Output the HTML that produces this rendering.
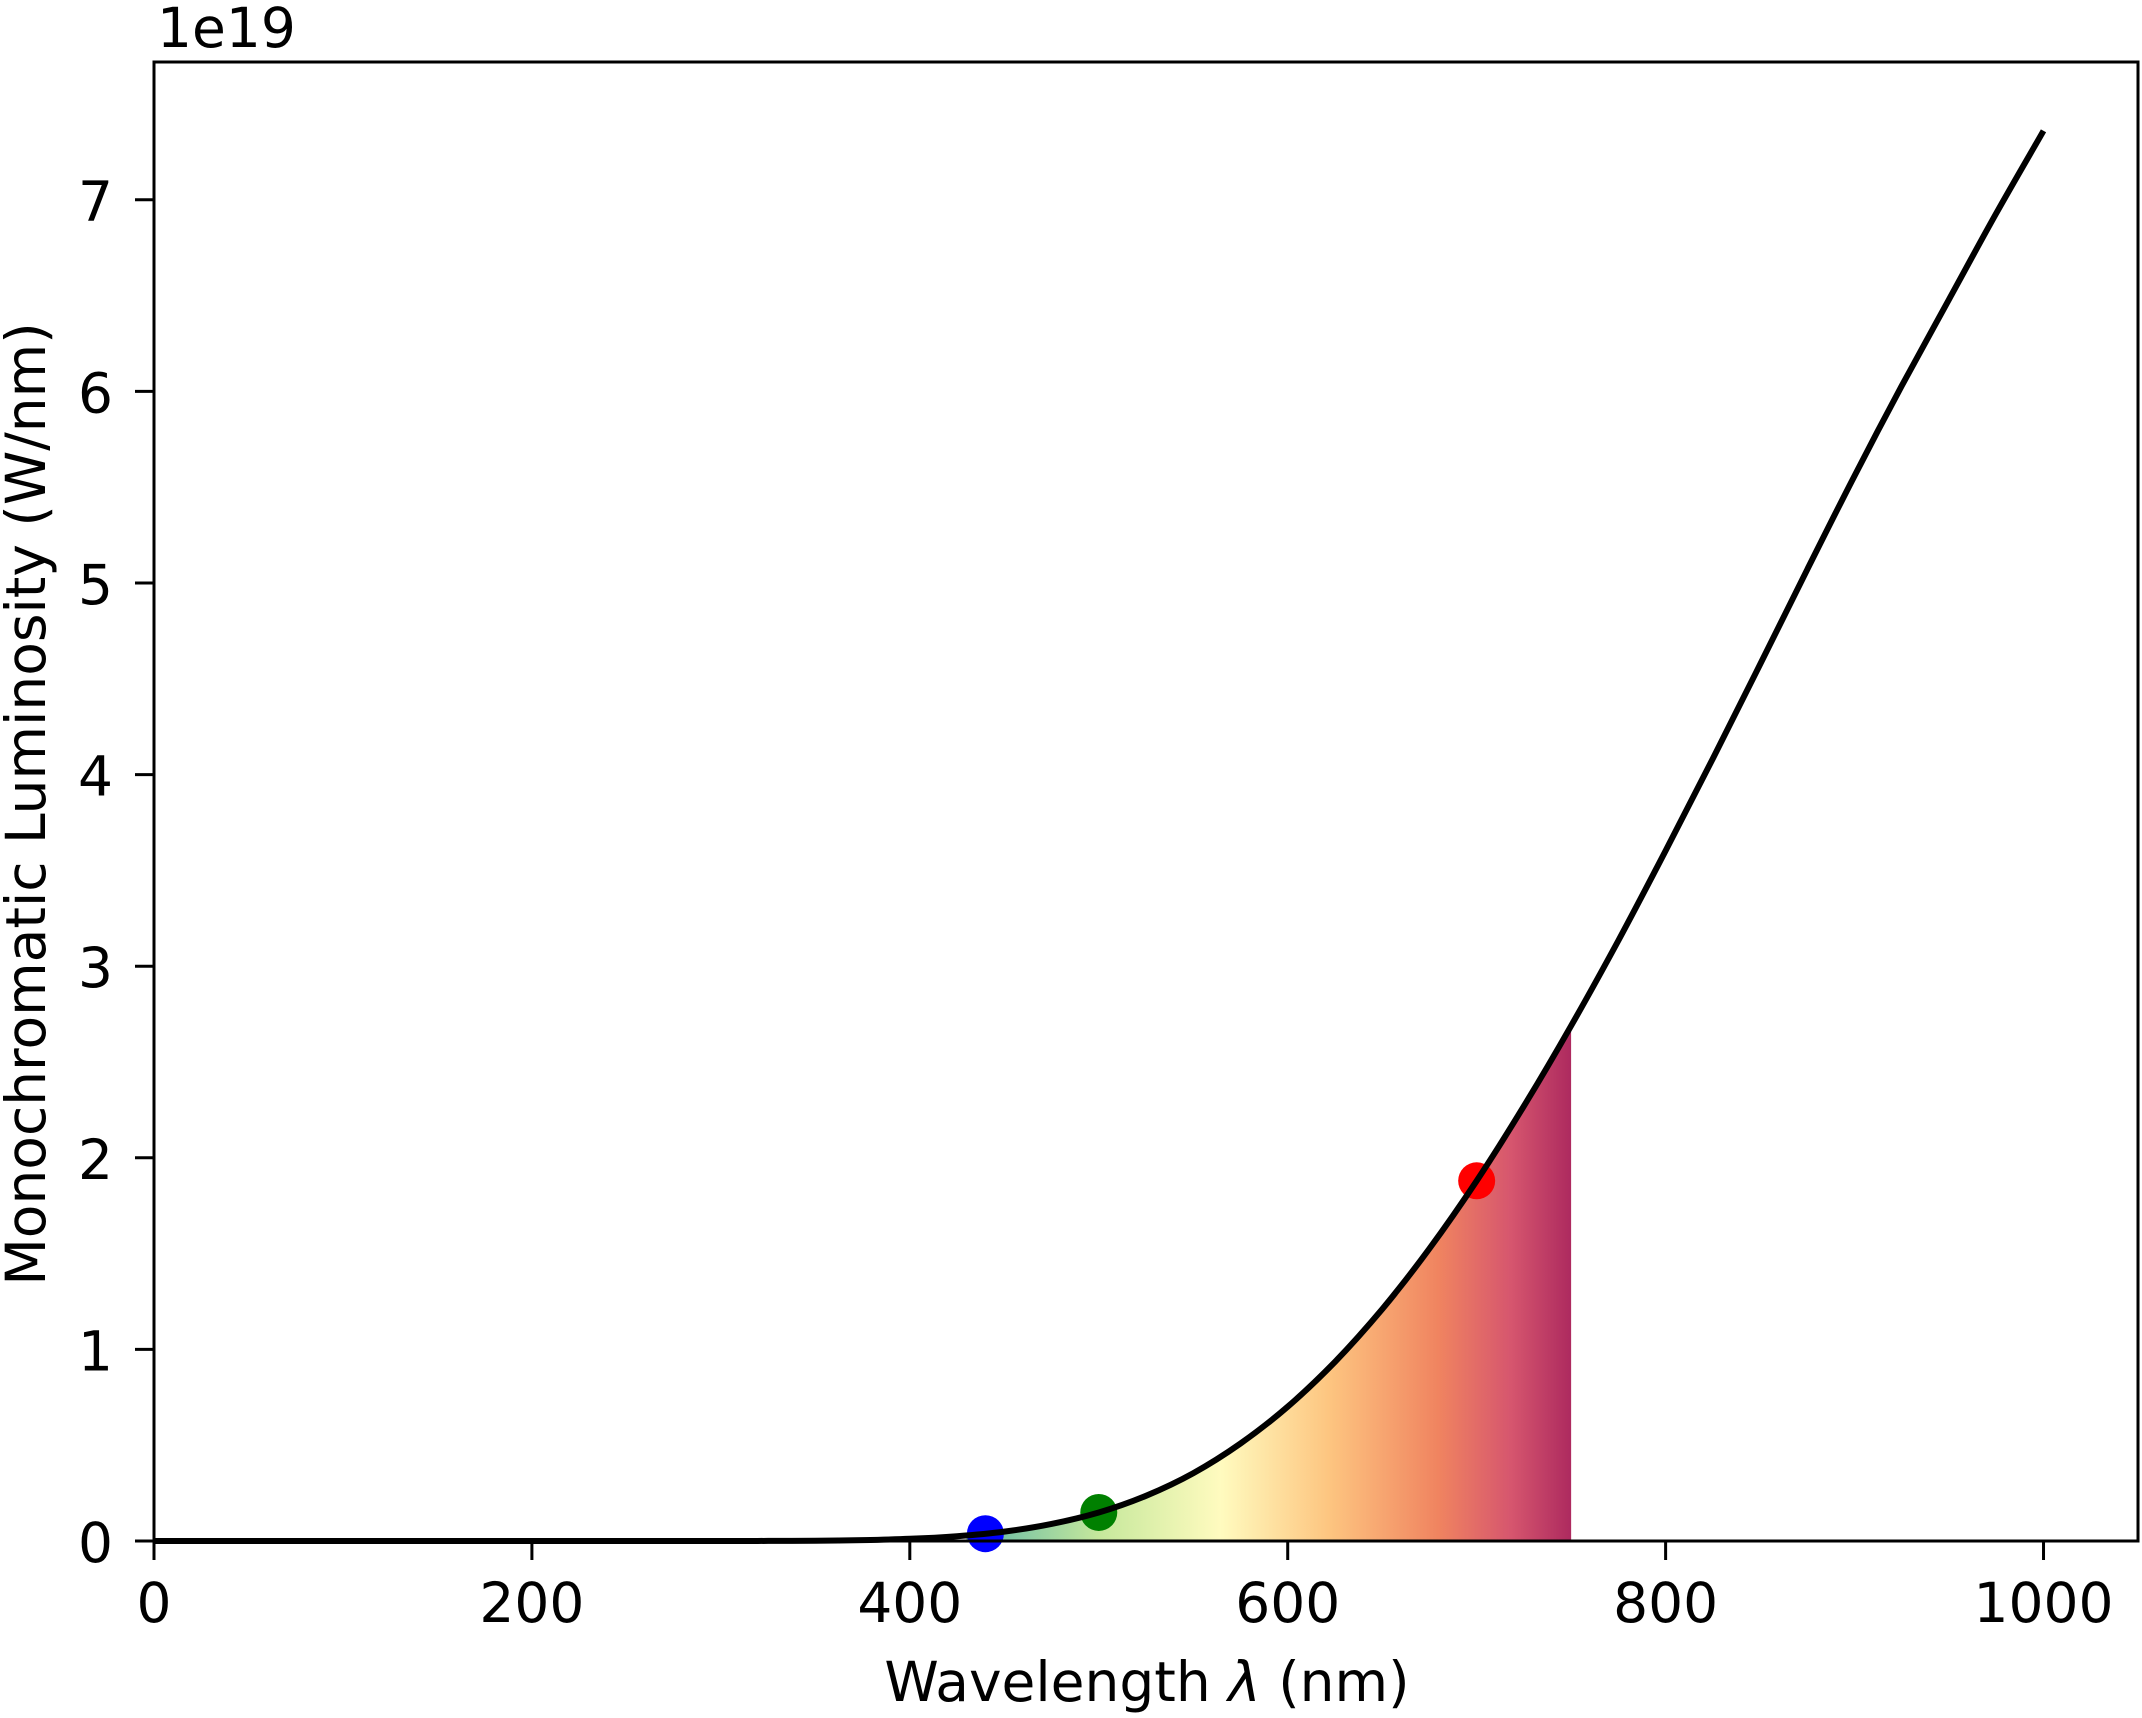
<!DOCTYPE html>
<html><head><meta charset="utf-8"><style>
html,body{margin:0;padding:0;background:#fff;}
svg{display:block;font-family:"DejaVu Sans","Liberation Sans",sans-serif;}
</style></head><body>
<svg id="chart" width="2142" height="1718" viewBox="0 0 2142 1718" xmlns="http://www.w3.org/2000/svg">
<defs>
<linearGradient id="spec" gradientUnits="userSpaceOnUse" x1="0" y1="0" x2="1" y2="0">
<stop offset="0" stop-color="#5bb5a6"/>
<stop offset="0.22" stop-color="#c6e89c"/>
<stop offset="0.42" stop-color="#fffbbf"/>
<stop offset="0.6" stop-color="#fdc580"/>
<stop offset="0.78" stop-color="#f08460"/>
<stop offset="0.9" stop-color="#d6566e"/>
<stop offset="1" stop-color="#ad2a5f"/>
</linearGradient>
</defs>
<g id="plot"></g>
</svg>
<script>
const wavelengths = [0,100,200,300,325,350,375,400,425,450,475,500,525,550,575,600,625,650,675,700,725,750,775,800,825,850,875,900,925,950,975,1000];
const luminosity = [0,0,0,0,0.0005,0.0016,0.0046,0.0114,0.025,0.049,0.089,0.149,0.236,0.354,0.509,0.701,0.935,1.21,1.526,1.88,2.27,2.689,3.134,3.603,4.084,4.575,5.071,5.56,6.03,6.48,6.93,7.36];
const markerLambda = [440,500,700];
const markerValue = [0.038,0.149,1.88];
const markerColor = ['#0000ff','#008000','#ff0000'];
const fillRange = [430,750];
const xTicks = [0,200,400,600,800,1000];
const yTicks = [0,1,2,3,4,5,6,7];

const L=154,R=2138,T=62,B=1541;
const x0=0,x1=1050,y0=0,y1=(B-T)/191.6;
const sx=v=>L+(v-x0)/(x1-x0)*(R-L);
const sy=v=>B-(v-y0)/(y1-y0)*(B-T);
const NS='http://www.w3.org/2000/svg';
const g=document.getElementById('plot');
function mk(tag,attrs,parent){const e=document.createElementNS(NS,tag);for(const k in attrs)e.setAttribute(k,attrs[k]);(parent||g).appendChild(e);return e;}
function interp(l){for(let i=1;i<wavelengths.length;i++){if(l<=wavelengths[i]){const a=wavelengths[i-1],b=wavelengths[i];const t=(l-a)/(b-a);return luminosity[i-1]+t*(luminosity[i]-luminosity[i-1]);}}return luminosity[luminosity.length-1];}

document.getElementById('spec').setAttribute('x1',sx(fillRange[0]));
document.getElementById('spec').setAttribute('x2',sx(fillRange[1]));
let fd='M'+sx(fillRange[0])+','+sy(0);
for(let l=fillRange[0];l<=fillRange[1];l+=5){fd+=' L'+sx(l).toFixed(1)+','+sy(interp(l)).toFixed(1);}
fd+=' L'+sx(fillRange[1])+','+sy(0)+'Z';
const fill=mk('path',{d:fd,fill:'url(#spec)'});



const pts=wavelengths.map((w,i)=>[sx(w),sy(luminosity[i])]);
let d='M'+pts[0][0]+','+pts[0][1];
for(let i=0;i<pts.length-1;i++){const p0=pts[Math.max(0,i-1)],p1=pts[i],p2=pts[i+1],p3=pts[Math.min(pts.length-1,i+2)];
const c1=[p1[0]+(p2[0]-p0[0])/6,p1[1]+(p2[1]-p0[1])/6],c2=[p2[0]-(p3[0]-p1[0])/6,p2[1]-(p3[1]-p1[1])/6];
d+=` C${c1[0].toFixed(1)},${c1[1].toFixed(1)} ${c2[0].toFixed(1)},${c2[1].toFixed(1)} ${p2[0].toFixed(1)},${p2[1].toFixed(1)}`;}

markerLambda.forEach((l,i)=>{const c=mk('circle',{cx:sx(l),cy:sy(markerValue[i]),r:18.5,fill:markerColor[i]});

});

const line=mk('path',{d:d,fill:'none',stroke:'#000','stroke-width':6,'stroke-linejoin':'round','stroke-linecap':'butt'});



const frame=mk('rect',{x:L,y:T,width:R-L,height:B-T,fill:'none',stroke:'#000','stroke-width':3});



xTicks.forEach(v=>{const X=sx(v);
const t=mk('line',{x1:X,x2:X,y1:B,y2:B+19,stroke:'#000','stroke-width':3});


const tx=mk('text',{x:X,y:1622,'text-anchor':'middle','font-size':55});tx.textContent=v;

});
yTicks.forEach(v=>{const Y=sy(v);
const t=mk('line',{x1:L-19,x2:L,y1:Y,y2:Y,stroke:'#000','stroke-width':3});


const tx=mk('text',{x:113,y:Y+21,'text-anchor':'end','font-size':55});tx.textContent=v;

});

const off=mk('text',{x:157,y:47,'font-size':55});off.textContent='1e19';


const xt=mk('text',{x:1147,y:1701,'text-anchor':'middle','font-size':55});
xt.innerHTML='Wavelength <tspan font-style="italic">λ</tspan> (nm)';


const yt=mk('text',{x:0,y:0,'text-anchor':'middle','font-size':55,transform:'translate(45,804) rotate(-90)'});
yt.textContent='Monochromatic Luminosity (W/nm)';


</script>
</body></html>
